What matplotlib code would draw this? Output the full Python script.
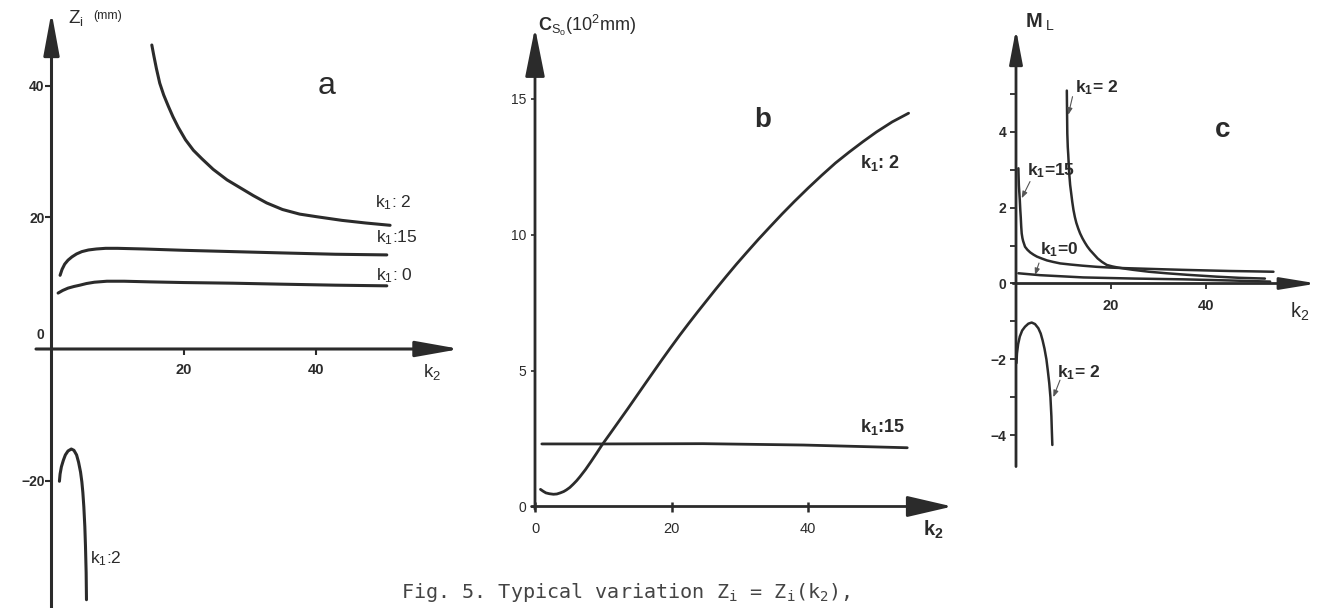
import matplotlib
matplotlib.use("Agg")
import matplotlib.pyplot as plt

W, H = 1327, 608
ink = "#2b2b2b"

plt.rcParams["font.family"] = ["Liberation Sans", "DejaVu Sans"]
plt.rcParams["mathtext.fontset"] = "custom"
plt.rcParams["mathtext.rm"] = "Liberation Sans"
plt.rcParams["mathtext.it"] = "Liberation Sans:italic"
plt.rcParams["mathtext.bf"] = "Liberation Sans:bold"
plt.rcParams["mathtext.tt"] = "DejaVu Sans Mono"

# ---- panel a : Z_i (mm) against k2 ----
a_k1_2_up_k2 = [15.2, 15.5, 15.9, 16.4, 17.0, 17.7, 18.4, 19.2, 20.3, 21.5, 22.8, 24.5, 26.6,
                28.6, 30.6, 32.6, 35.0, 37.6, 40.2, 44.0, 47.6, 51.3]
a_k1_2_up_z = [46.2, 44.6, 42.6, 40.4, 38.6, 36.9, 35.3, 33.7, 31.8, 30.2, 28.9, 27.3, 25.7,
               24.5, 23.3, 22.2, 21.2, 20.5, 20.1, 19.55, 19.15, 18.8]
a_k1_15_k2 = [1.3, 1.6, 2.0, 2.5, 3.1, 3.8, 4.6, 5.6, 6.8, 8.2, 10, 14, 20, 27.5, 35, 43, 50.8]
a_k1_15_z = [11.2, 12.1, 12.9, 13.5, 14.0, 14.45, 14.8, 15.05, 15.2, 15.3, 15.3, 15.2, 15.0,
             14.8, 14.6, 14.4, 14.3]
a_k1_0_k2 = [1.0, 1.7, 2.5, 3.4, 4.3, 5.3, 6.5, 8.4, 11, 15, 20, 27.5, 35, 43, 50.8]
a_k1_0_z = [8.5, 8.9, 9.25, 9.5, 9.7, 9.95, 10.15, 10.3, 10.3, 10.2, 10.1, 10.0, 9.85, 9.7, 9.6]
a_k1_2_low_k2 = [1.2, 1.3, 1.5, 1.8, 2.1, 2.5, 3.0, 3.4, 3.8, 4.1, 4.4, 4.6, 4.75, 4.9, 5.05,
                 5.15, 5.25, 5.3]
a_k1_2_low_z = [-20.1, -19.0, -17.9, -16.9, -16.1, -15.5, -15.2, -15.4, -16.1, -17.2, -18.7,
                -20.2, -21.8, -24.0, -27.0, -30.0, -34.0, -38.1]
a_yticks = [-20, 20, 40]
a_yticklabels = ["\u221220", "20", "40"]
a_xticks = [20, 40]

# ---- panel b : C_So (10^2 mm) against k2 ----
b_k1_2_k2 = [0.8, 1.2, 1.6, 2.1, 2.7, 3.2, 3.7, 4.2, 4.6, 5.1, 5.6, 6.1, 6.6, 7.4, 8.2, 9.0,
             9.8, 11, 12.3, 13.6, 14.9, 16.2, 17.4, 18.6, 19.8, 21.2, 22.5, 23.8, 25.1, 26.5,
             28, 29.5, 31, 32.7, 34.4, 36.2, 38, 40, 42, 44, 46, 48, 50, 52.3, 54.7]
b_k1_2_c = [0.63, 0.56, 0.50, 0.47, 0.45, 0.46, 0.50, 0.55, 0.61, 0.70, 0.82, 0.95, 1.10, 1.36,
            1.65, 1.95, 2.26, 2.68, 3.14, 3.60, 4.07, 4.54, 4.97, 5.40, 5.82, 6.30, 6.73, 7.15,
            7.56, 8.00, 8.46, 8.91, 9.34, 9.82, 10.28, 10.76, 11.22, 11.71, 12.18, 12.63,
            13.03, 13.41, 13.77, 14.14, 14.46]
b_k1_15_k2 = [1.0, 10, 24.6, 39.3, 54.5]
b_k1_15_c = [2.30, 2.30, 2.31, 2.26, 2.16]
b_yticks = [0, 5, 10, 15]
b_xticks = [0, 20, 40]

# ---- panel c : M_L against k2 ----
c_k1_2_up_k2 = [10.7, 10.75, 10.8, 10.9, 11.0, 11.2, 11.4, 11.6, 11.85, 12.1, 12.4, 12.7, 13.1,
                13.5, 14.0, 14.5, 15.0, 15.6, 16.4, 17.2, 18.1, 19.1, 20.3, 21.5, 23, 24.7, 28,
                31.7, 36, 42.3, 47, 52.4]
c_k1_2_up_m = [5.09, 4.5, 3.96, 3.6, 3.4, 2.91, 2.6, 2.4, 2.15, 1.94, 1.75, 1.6, 1.45, 1.32,
               1.19, 1.08, 0.98, 0.88, 0.77, 0.66, 0.57, 0.49, 0.45, 0.42, 0.39, 0.36, 0.31,
               0.27, 0.23, 0.18, 0.15, 0.13]
c_k1_15_k2 = [0.5, 0.55, 0.6, 0.7, 0.8, 0.9, 1.0, 1.1, 1.2, 1.35, 1.5, 1.9, 2.4, 3.0, 3.7, 4.4,
              5.4, 6.5, 7.8, 9.3, 11.5, 14, 17, 19.8, 23, 27, 31, 35.2, 40, 45, 50, 54.2]
c_k1_15_m = [3.04, 2.8, 2.6, 2.4, 2.2, 1.95, 1.75, 1.5, 1.32, 1.2, 1.12, 0.97, 0.89, 0.82, 0.76,
             0.71, 0.66, 0.61, 0.57, 0.53, 0.5, 0.47, 0.44, 0.42, 0.405, 0.39, 0.375, 0.36,
             0.345, 0.33, 0.32, 0.31]
c_k1_0_k2 = [0.5, 5, 14.2, 25, 35.2, 45, 53.5]
c_k1_0_m = [0.27, 0.22, 0.16, 0.13, 0.11, 0.08, 0.05]
c_k1_2_low_k2 = [0.1, 0.2, 0.45, 0.8, 1.3, 1.9, 2.6, 3.3, 4.0, 4.7, 5.2, 5.6, 6.0, 6.4, 6.7,
                 7.0, 7.25, 7.45, 7.55, 7.65]
c_k1_2_low_m = [-2.1, -1.85, -1.6, -1.4, -1.24, -1.14, -1.06, -1.03, -1.07, -1.18, -1.32, -1.5,
                -1.72, -2.0, -2.3, -2.63, -3.0, -3.5, -3.9, -4.26]
c_yticks = [-4, -2, 0, 2, 4]
c_yticklabels = ["\u22124", "\u22122", "0", "2", "4"]
c_yminor = [-3, -1, 1, 3, 5]
c_xticks = [20, 40]


fig = plt.figure(figsize=(W / 100, H / 100), dpi=100)
fig.patch.set_facecolor("white")


def panel(left, right, x0, sx, y0, sy):
    # axes spanning pixel columns left..right; origin at pixel (x0, y0)
    ax = fig.add_axes([left / W, 0, (right - left) / W, 1])
    ax.set_xlim((left - x0) / sx, (right - x0) / sx)
    ax.set_ylim((y0 - H) / sy, y0 / sy)
    ax.patch.set_visible(False)
    for side in ("top", "right"):
        ax.spines[side].set_visible(False)
    for side in ("left", "bottom"):
        ax.spines[side].set_position(("data", 0))
        ax.spines[side].set_visible(False)
    return ax


def arrow(ax, start, tip, hl, hw, lw):
    ax.annotate("", xy=tip, xytext=start,
                arrowprops=dict(arrowstyle=f"-|>,head_length={hl},head_width={hw}",
                                mutation_scale=1, lw=lw, color=ink,
                                shrinkA=0, shrinkB=0))


def pointer(ax, tail, head):
    ax.annotate("", xy=head, xytext=tail,
                arrowprops=dict(arrowstyle="-|>,head_length=4,head_width=1.5",
                                mutation_scale=1, lw=0.8, color="#555555",
                                shrinkA=0, shrinkB=0))


# ---------------- a ----------------
ax = panel(0, 470, 51.5, 6.6, 349, 6.58)
arrow(ax, (0, -55), (0, 51.2), 26, 4.8, 2.2)
arrow(ax, (-2.35, 0), (61.9, 0), 27, 4.8, 2.2)
ax.set_yticks(a_yticks, a_yticklabels, fontweight="bold")
ax.set_xticks(a_xticks, [str(t) for t in a_xticks], fontweight="bold")
ax.tick_params(axis="y", direction="out", length=4, width=1.5, colors=ink, labelsize=10, pad=1)
ax.tick_params(axis="x", direction="out", length=4, width=1.5, colors=ink, labelsize=10.5, pad=6)
for xs, ys in [(a_k1_2_up_k2, a_k1_2_up_z), (a_k1_15_k2, a_k1_15_z),
               (a_k1_0_k2, a_k1_0_z), (a_k1_2_low_k2, a_k1_2_low_z)]:
    ax.plot(xs, ys, color=ink, lw=2.2, solid_capstyle="round", solid_joinstyle="round")
ax.text(-1.7, 2.1, "0", fontsize=10, fontweight="bold", color=ink, ha="center", va="center")
ax.text(49.0, 22.2, r"k$_1$: 2", fontsize=12.5, color=ink, va="center")
ax.text(49.2, 16.9, r"k$_1$:15", fontsize=12.5, color=ink, va="center")
ax.text(49.2, 11.2, r"k$_1$: 0", fontsize=12.5, color=ink, va="center")
ax.text(5.8, -31.8, r"k$_1$:2", fontsize=12.5, color=ink, va="center")
ax.text(41.7, 40.0, "a", fontsize=23, color=ink, ha="center", va="center")
ax.text(2.5, 50.3, r"Z$_\mathregular{i}$", fontsize=13.5, color=ink, va="center")
ax.text(6.4, 50.6, "(mm)", fontsize=9, color=ink, va="center")
ax.text(57.6, -3.5, r"k$_2$", fontsize=13.5, color=ink, ha="center", va="center")

# ---------------- b ----------------
ax = panel(470, 960, 535, 6.83, 506.5, 27.2)
arrow(ax, (0, -0.1), (0, 17.6), 30, 6.0, 2.0)
arrow(ax, (-0.5, 0), (61.1, 0), 28, 6.5, 2.0)
ax.set_yticks(b_yticks, [str(t) for t in b_yticks])
ax.set_xticks(b_xticks, [str(t) for t in b_xticks])
ax.tick_params(axis="y", direction="out", length=3, width=1.2, colors=ink, labelsize=10, pad=3)
ax.tick_params(axis="x", direction="inout", length=7, width=1.8, colors=ink, labelsize=10.5, pad=8)
ax.plot(b_k1_2_k2, b_k1_2_c, color=ink, lw=2.0, solid_capstyle="round", solid_joinstyle="round")
ax.plot(b_k1_15_k2, b_k1_15_c, color=ink, lw=2.0, solid_capstyle="round")
ax.text(47.6, 12.63, r"k$_\mathbf{1}$: 2", fontsize=13, fontweight="bold", color=ink, va="center")
ax.text(47.6, 2.93, r"k$_\mathbf{1}$:15", fontsize=13, fontweight="bold", color=ink, va="center")
ax.text(33.4, 14.2, "b", fontsize=20, fontweight="bold", color=ink, ha="center", va="center")
ax.text(0.45, 17.7, r"$\mathbf{C}_{\mathrm{S}_\mathrm{o}}$(10$^2$mm)", fontsize=13, color=ink, va="center")
ax.text(58.3, -0.86, r"k$_\mathbf{2}$", fontsize=14.5, fontweight="bold", color=ink, ha="center", va="center")

# ---------------- c ----------------
ax = panel(960, 1327, 1016, 4.75, 283.5, 37.9)
arrow(ax, (0, -4.83), (0, 6.71), 21, 4.0, 2.0)
arrow(ax, (-0.6, 0), (63.4, 0), 22, 3.6, 2.0)
ax.set_yticks(c_yticks, c_yticklabels, fontweight="bold")
ax.set_yticks(c_yminor, minor=True)
ax.set_xticks(c_xticks, [str(t) for t in c_xticks], fontweight="bold")
ax.tick_params(axis="y", which="both", direction="out", length=4, width=1.3, colors=ink, labelsize=10, pad=3)
ax.tick_params(axis="x", direction="out", length=4, width=1.3, colors=ink, labelsize=10.5, pad=7)
for xs, ys in [(c_k1_2_up_k2, c_k1_2_up_m), (c_k1_15_k2, c_k1_15_m),
               (c_k1_0_k2, c_k1_0_m), (c_k1_2_low_k2, c_k1_2_low_m)]:
    ax.plot(xs, ys, color=ink, lw=1.8, solid_capstyle="round", solid_joinstyle="round")
ax.text(12.4, 5.16, r"k$_\mathbf{1}$= 2", fontsize=12.5, fontweight="bold", color=ink, va="center")
ax.text(2.3, 2.99, r"k$_\mathbf{1}$=15", fontsize=12.5, fontweight="bold", color=ink, va="center")
ax.text(5.05, 0.88, r"k$_\mathbf{1}$=0", fontsize=12.5, fontweight="bold", color=ink, va="center")
ax.text(8.57, -2.35, r"k$_\mathbf{1}$= 2", fontsize=12.5, fontweight="bold", color=ink, va="center")
pointer(ax, (11.9, 4.93), (11.0, 4.45))
pointer(ax, (2.95, 2.69), (1.2, 2.25))
pointer(ax, (4.84, 0.54), (4.0, 0.22))
pointer(ax, (9.26, -2.55), (7.85, -3.0))
ax.text(43.6, 4.05, "c", fontsize=20, fontweight="bold", color=ink, ha="center", va="center")
ax.text(1.9, 6.9, r"$\mathbf{M}_{\ \mathrm{L}}$", fontsize=14.5, color=ink, va="center")
ax.text(59.8, -0.74, r"k$_2$", fontsize=14.5, color=ink, ha="center", va="center")

# caption
fig.text(625 / W, 1 - 592 / H, r"Fig. 5. Typical variation Z$_\mathtt{i}$ = Z$_\mathtt{i}$(k$_\mathtt{2}$),",
         family="DejaVu Sans Mono", fontsize=14.5, color="#444444", ha="center", va="center")

fig.savefig("out.png", dpi=100, facecolor="white")
